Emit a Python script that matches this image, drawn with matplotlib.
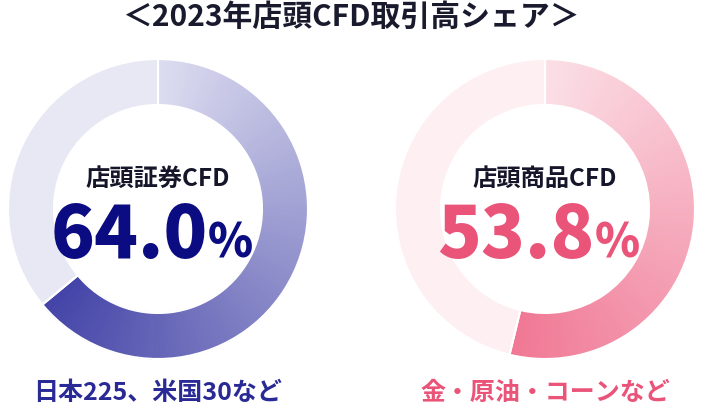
import matplotlib
matplotlib.use("Agg")
import matplotlib.pyplot as plt
import numpy as np
from matplotlib.colors import to_rgb

plt.rcParams['font.family'] = ['Noto Sans CJK JP', 'DejaVu Sans']

title = '＜2023年店頭CFD取引高シェア＞'
names = ['店頭証券CFD', '店頭商品CFD']
shares = [64.0, 53.8]
notes = ['日本225、米国30など', '金・原油・コーンなど']

grad_start = ['#dcdcf0', '#fbdfe6']
grad_end = ['#4444a8', '#f07895']
rest_colors = ['#e8e8f5', '#fdeff2']
value_colors = ['#0c0c82', '#ea5479']
note_colors = ['#2a2a96', '#ea5479']

centers_x = [158, 545]
center_y = 206
outer_r = 150
ring_w = 46
n_steps = 120

fig = plt.figure(figsize=(7.04, 4.15), dpi=100)
ax = fig.add_axes([0, 0, 1, 1])

for i, share in enumerate(shares):
    c0 = np.array(to_rgb(grad_start[i]))
    c1 = np.array(to_rgb(grad_end[i]))
    t = np.linspace(0, 1, n_steps)
    cols = [tuple(c0 + (c1 - c0) * v) for v in t]
    vals = [share / n_steps] * n_steps + [100 - share]
    cols.append(rest_colors[i])
    wedges, _ = ax.pie(vals, colors=cols, startangle=90, counterclock=False,
                       center=(centers_x[i], center_y), radius=outer_r,
                       wedgeprops=dict(width=ring_w, linewidth=0.6))
    for w, c in zip(wedges, cols):
        w.set_edgecolor(c)
    # white separator between filled part and rest
    ax.pie([share, 100 - share], colors=['none', 'none'], startangle=90,
           counterclock=False, center=(centers_x[i], center_y), radius=outer_r,
           wedgeprops=dict(width=ring_w, linewidth=1.5, edgecolor='white'))

    ax.text(centers_x[i], 236, names[i], ha='center', va='center',
            fontsize=17.5, fontweight='bold', color='#16162a')
    num, pct = f'{share:.1f}', '%'
    split_x = centers_x[i] + 50
    ax.text(split_x, 157, num, ha='right', va='baseline', fontsize=52,
            fontweight='black', color=value_colors[i])
    ax.text(split_x, 157, pct, ha='left', va='baseline', fontsize=33,
            fontweight='black', color=value_colors[i])
    ax.text(centers_x[i], 22, notes[i], ha='center', va='center',
            fontsize=18, fontweight='bold', color=note_colors[i])

ax.text(352, 398, title, ha='center', va='center', fontsize=21.5,
        fontweight='bold', color='#1a1a2e')

# pie() resets the limits, so set the pixel frame afterwards
ax.set_xlim(0, 704)
ax.set_ylim(0, 415)
ax.set_aspect('equal')
ax.axis('off')

fig.savefig('out.png', dpi=100)
